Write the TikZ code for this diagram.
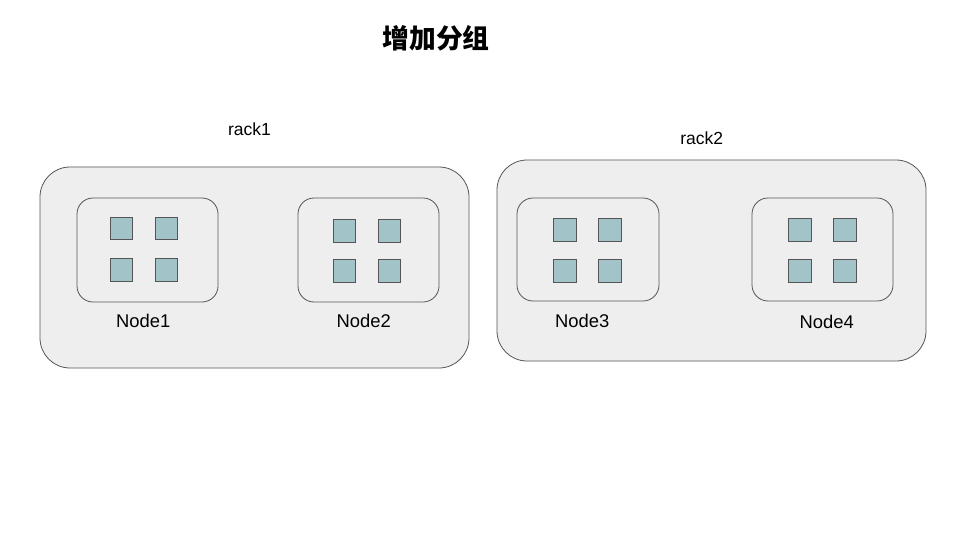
\documentclass[tikz,border=0pt]{standalone}
\usepackage{fontspec}
\setmainfont{Liberation Sans}
\newfontfamily\cjk{Noto Sans CJK SC}
\definecolor{rackfill}{HTML}{EEEEEE}
\definecolor{edge}{HTML}{555555}
\definecolor{chip}{HTML}{A2C4C9}
\begin{document}
\begin{tikzpicture}[x=1pt,y=-1pt,
  rackbox/.style={draw=edge,fill=rackfill,rounded corners=30pt,line width=0.8pt},
  nodebox/.style={draw=edge,fill=rackfill,rounded corners=16pt,line width=0.8pt},
  chipbox/.style={draw=edge,fill=chip,line width=0.7pt,minimum size=22.5pt,inner sep=0pt},
  lbl/.style={font=\fontsize{18.4}{20}\selectfont,inner sep=0pt},
  racklbl/.style={font=\fontsize{17.5}{19}\selectfont,inner sep=0pt}]
\useasboundingbox (0,0) rectangle (960,540);
\node[font=\cjk\bfseries\fontsize{26.8}{30}\selectfont,inner sep=0pt] (title) at (436,38.5) {增加分组};
% racks
\draw[rackbox] (40,167) rectangle (469,368);
\draw[rackbox] (497,160) rectangle (926,361);
\node[racklbl] (rack1) at (249.5,129.7) {rack1};
\node[racklbl] (rack2) at (701.7,138.7) {rack2};
% node boxes
\draw[nodebox] (77,198) rectangle (218,302);
\draw[nodebox] (298,198) rectangle (439,302);
\draw[nodebox] (517,198) rectangle (659,301);
\draw[nodebox] (752,198) rectangle (893,301);
% chips
\foreach \n/\xa/\xb/\ya/\yb in {a/121.5/166.5/228.5/270, b/344.5/389.5/231/271, c/565/610/230/271, d/800/845/230/271}{
  \node[chipbox] (\n1) at (\xa,\ya) {};
  \node[chipbox] (\n2) at (\xb,\ya) {};
  \node[chipbox] (\n3) at (\xa,\yb) {};
  \node[chipbox] (\n4) at (\xb,\yb) {};
}
\node[lbl] (node1) at (143.3,320.5) {Node1};
\node[lbl] (node2) at (363.7,320.5) {Node2};
\node[lbl] (node3) at (582.2,320.5) {Node3};
\node[lbl] (node4) at (826.7,321.5) {Node4};
\end{tikzpicture}
\end{document}
